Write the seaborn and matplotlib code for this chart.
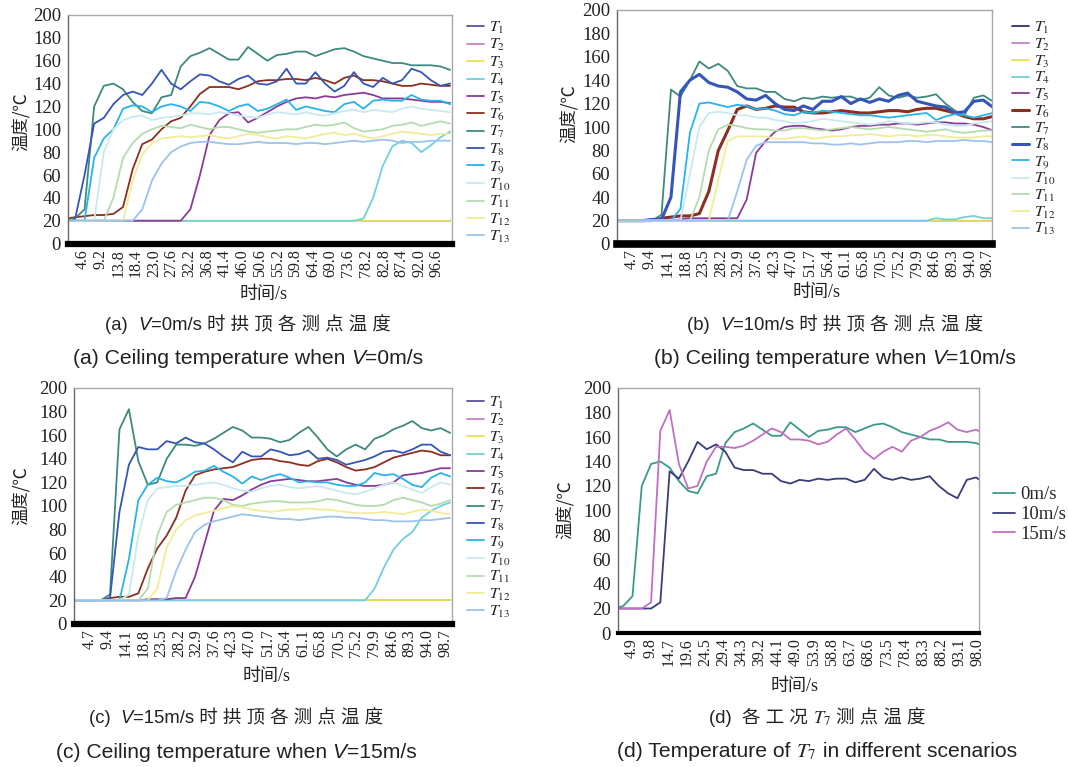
import matplotlib
matplotlib.use('Agg')
import matplotlib.pyplot as plt
from matplotlib.offsetbox import TextArea, HPacker, AnchoredOffsetbox
import seaborn as sns

# sampling times (s), shared by all panels
TIME = [0, 2.5, 5, 7.5, 10, 12.5, 15, 17.5, 20, 22.5,
        25, 27.5, 30, 32.5, 35, 37.5, 40, 42.5, 45, 47.5,
        50, 52.5, 55, 57.5, 60, 62.5, 65, 67.5, 70, 72.5,
        75, 77.5, 80, 82.5, 85, 87.5, 90, 92.5, 95, 97.5,
        100]

# probes that never heat up stay at ambient
AMBIENT = [20, 20, 20, 20, 20, 20, 20, 20, 20, 20,
           20, 20, 20, 20, 20, 20, 20, 20, 20, 20,
           20, 20, 20, 20, 20, 20, 20, 20, 20, 20,
           20, 20, 20, 20, 20, 20, 20, 20, 20, 20,
           20]

# ---- (a) V = 0 m/s ----
A_T4 = [20, 20, 20, 20, 20, 20, 20, 20, 20, 20, 20, 20, 20, 20, 20, 20, 20, 20, 20, 20,
        20, 20, 20, 20, 20, 20, 20, 20, 20, 20, 20, 22, 40, 68, 85, 90, 88, 80, 86, 93, 98]
A_T5 = [20, 20, 20, 20, 20, 20, 20, 20, 20, 20, 20, 20, 20, 30, 60, 95, 108, 114, 115, 106,
        110, 115, 120, 124, 127, 128, 127, 129, 128, 130, 131, 132, 130, 127, 127, 127, 126, 125, 124, 124, 123]
A_T6 = [22, 23, 24, 25, 25, 26, 32, 65, 87, 91, 100, 107, 110, 120, 131, 137, 137, 137, 135, 138,
        142, 143, 143, 144, 144, 143, 145, 143, 140, 145, 147, 143, 143, 142, 140, 138, 138, 140, 139, 138, 138]
A_T7 = [20, 22, 30, 120, 138, 140, 135, 124, 116, 114, 128, 130, 155, 164, 167, 171, 166, 161, 161, 172,
        166, 160, 165, 166, 168, 168, 164, 167, 170, 171, 168, 164, 162, 160, 158, 158, 156, 156, 156, 155, 152]
A_T8 = [20, 21, 60, 105, 110, 122, 130, 133, 130, 140, 152, 140, 135, 142, 148, 147, 142, 139, 144, 147,
        140, 139, 142, 153, 140, 140, 150, 140, 133, 138, 150, 140, 137, 145, 140, 143, 153, 150, 143, 138, 140]
A_T9 = [20, 20, 20, 75, 92, 100, 118, 121, 120, 115, 120, 122, 120, 116, 124, 123, 120, 116, 120, 122,
        116, 118, 122, 126, 117, 120, 118, 116, 115, 122, 124, 118, 125, 126, 125, 125, 130, 126, 125, 125, 122]
A_T10 = [20, 20, 20, 20, 80, 100, 108, 111, 112, 108, 110, 111, 112, 114, 114, 113, 115, 114, 112, 111,
         110, 113, 115, 114, 113, 115, 113, 112, 114, 116, 117, 115, 117, 116, 115, 118, 120, 118, 117, 116, 115]
A_T11 = [20, 20, 20, 20, 20, 40, 75, 88, 96, 100, 103, 102, 101, 104, 102, 100, 102, 102, 100, 98,
         97, 98, 99, 100, 100, 102, 104, 103, 104, 106, 101, 98, 99, 100, 103, 104, 106, 103, 105, 107, 105]
A_T12 = [20, 20, 20, 20, 20, 20, 20, 55, 78, 88, 92, 93, 94, 93, 94, 95, 93, 92, 94, 96,
         95, 93, 92, 94, 93, 92, 94, 96, 97, 95, 96, 94, 92, 94, 96, 98, 97, 96, 95, 96, 96]
A_T13 = [20, 20, 20, 20, 20, 20, 20, 20, 30, 55, 70, 80, 85, 88, 89, 89, 88, 87, 87, 88,
         89, 88, 88, 88, 87, 88, 88, 87, 88, 89, 90, 89, 90, 91, 90, 88, 89, 89, 90, 90, 90]

# ---- (b) V = 10 m/s ----
B_T4 = [20, 20, 20, 20, 20, 20, 20, 20, 20, 20, 20, 20, 20, 20, 20, 20, 20, 20, 20, 20,
        20, 20, 20, 20, 20, 20, 20, 20, 20, 20, 20, 20, 20, 20, 22, 21, 21, 23, 24, 22, 22]
B_T5 = [20, 20, 20, 20, 20, 20, 20, 21, 22, 22, 22, 22, 22, 22, 38, 78, 88, 96, 100, 101,
        101, 99, 98, 97, 98, 100, 101, 101, 102, 102, 103, 103, 102, 103, 104, 104, 103, 103, 102, 100, 97]
B_T6 = [20, 20, 20, 20, 20, 22, 23, 24, 24, 26, 45, 80, 97, 115, 118, 115, 116, 118, 117, 117,
        113, 112, 112, 113, 114, 113, 112, 112, 113, 114, 114, 113, 115, 116, 116, 114, 112, 109, 107, 107, 109]
B_T7 = [20, 20, 20, 20, 20, 25, 132, 126, 140, 156, 150, 154, 148, 135, 133, 133, 130, 130, 124, 122,
        125, 124, 126, 125, 126, 126, 123, 125, 134, 127, 125, 127, 125, 126, 128, 120, 114, 110, 125, 127, 122]
B_T8 = [20, 20, 20, 20, 21, 21, 40, 130, 140, 145, 138, 135, 134, 130, 124, 123, 127, 120, 115, 114,
        118, 115, 122, 122, 126, 120, 124, 121, 124, 122, 127, 129, 122, 120, 118, 117, 112, 113, 122, 123, 117]
B_T9 = [20, 20, 20, 20, 20, 20, 20, 30, 95, 120, 121, 119, 117, 119, 118, 115, 116, 114, 111, 110,
        113, 112, 114, 113, 112, 111, 110, 110, 109, 108, 109, 110, 111, 112, 106, 109, 111, 110, 108, 110, 112]
B_T10 = [20, 20, 20, 20, 20, 20, 20, 20, 60, 100, 112, 113, 112, 110, 110, 108, 108, 106, 105, 103,
         104, 105, 107, 106, 105, 104, 103, 102, 103, 105, 104, 103, 103, 104, 104, 102, 101, 101, 103, 104, 105]
B_T11 = [20, 20, 20, 20, 20, 20, 20, 20, 20, 40, 80, 98, 102, 101, 99, 98, 98, 97, 97, 99,
         99, 98, 97, 98, 99, 100, 99, 98, 99, 100, 99, 98, 97, 96, 97, 98, 96, 95, 96, 97, 97]
B_T12 = [20, 20, 20, 20, 20, 20, 20, 20, 20, 20, 20, 55, 88, 92, 92, 92, 92, 90, 90, 91,
         92, 90, 91, 92, 92, 93, 93, 94, 93, 92, 93, 93, 92, 93, 93, 92, 91, 91, 91, 92, 92]
B_T13 = [20, 20, 20, 20, 20, 20, 20, 20, 20, 20, 20, 20, 20, 45, 72, 84, 87, 87, 87, 87,
         87, 86, 86, 85, 85, 86, 85, 86, 87, 87, 87, 88, 88, 87, 88, 88, 88, 89, 88, 88, 87]

# ---- (c) V = 15 m/s ----
C_T4 = [20, 20, 20, 20, 20, 20, 20, 20, 20, 20, 20, 20, 20, 20, 20, 20, 20, 20, 20, 20,
        20, 20, 20, 20, 20, 20, 20, 20, 20, 20, 20, 20, 30, 48, 63, 72, 78, 90, 96, 100, 103]
C_T5 = [20, 20, 20, 20, 20, 20, 20, 20, 21, 21, 21, 22, 22, 40, 68, 96, 106, 105, 109, 114,
        118, 121, 122, 123, 122, 121, 121, 122, 123, 120, 118, 117, 117, 118, 120, 126, 127, 128, 130, 132, 132]
C_T6 = [20, 20, 20, 20, 22, 23, 23, 26, 47, 64, 75, 90, 113, 126, 129, 131, 132, 133, 136, 139,
        140, 140, 138, 137, 135, 134, 138, 140, 137, 133, 130, 131, 133, 137, 141, 143, 145, 147, 146, 143, 143]
C_T7 = [20, 20, 20, 20, 25, 165, 182, 138, 118, 120, 140, 152, 152, 151, 153, 157, 162, 167, 164, 158,
        158, 157, 154, 156, 162, 167, 158, 148, 142, 148, 152, 148, 157, 160, 165, 168, 172, 166, 164, 166, 162]
C_T8 = [20, 20, 20, 20, 22, 95, 135, 150, 148, 148, 155, 153, 158, 154, 153, 148, 142, 137, 146, 142,
        142, 148, 146, 143, 144, 147, 140, 141, 139, 135, 137, 139, 142, 146, 147, 145, 148, 152, 152, 146, 143]
C_T9 = [20, 20, 20, 20, 20, 20, 55, 105, 118, 124, 121, 120, 124, 129, 130, 134, 129, 125, 119, 125,
        122, 125, 127, 124, 120, 121, 120, 120, 118, 117, 117, 120, 128, 126, 127, 123, 118, 116, 124, 128, 125]
C_T10 = [20, 20, 20, 20, 20, 20, 25, 75, 105, 115, 116, 117, 117, 118, 119, 120, 118, 115, 113, 112,
         115, 117, 118, 116, 115, 116, 117, 115, 113, 111, 110, 112, 115, 118, 120, 117, 114, 111, 116, 120, 118]
C_T11 = [20, 20, 20, 20, 20, 20, 20, 20, 30, 75, 95, 101, 103, 105, 107, 107, 105, 101, 100, 102,
         103, 104, 104, 103, 103, 103, 104, 106, 105, 103, 101, 100, 100, 101, 105, 107, 105, 103, 100, 102, 105]
C_T12 = [20, 20, 20, 20, 20, 20, 20, 20, 20, 30, 65, 80, 88, 92, 94, 96, 98, 100, 99, 97,
         96, 95, 96, 97, 97, 98, 97, 97, 96, 95, 94, 94, 94, 95, 94, 93, 95, 97, 96, 94, 93]
C_T13 = [20, 20, 20, 20, 20, 20, 20, 20, 20, 20, 22, 45, 63, 78, 84, 87, 89, 91, 93, 92,
         91, 90, 89, 89, 88, 89, 90, 91, 91, 90, 90, 89, 88, 88, 87, 87, 87, 88, 88, 89, 90]

PROBES = ['$T_{%d}$' % i for i in range(1, 14)]
PROBE_COLORS = ['#5b4f98', '#c582cc', '#e9e34f', '#72d0de', '#8a3b98', '#8c2f1f', '#3e8a7c',
                '#3556b8', '#27b4ea', '#c8e9ef', '#b4dcb0', '#f2ec98', '#9cc3ec']

SPEEDS = ['0m/s', '10m/s', '15m/s']
SPEED_COLORS = ['#3a9a8a', '#3c3c78', '#c070c0']

TICKS_A = [4.6, 9.2, 13.8, 18.4, 23.0, 27.6, 32.2, 36.8, 41.4, 46.0, 50.6,
           55.2, 59.8, 64.4, 69.0, 73.6, 78.2, 82.8, 87.4, 92.0, 96.6]
TICKS_BC = [4.7, 9.4, 14.1, 18.8, 23.5, 28.2, 32.9, 37.6, 42.3, 47.0, 51.7,
            56.4, 61.1, 65.8, 70.5, 75.2, 79.9, 84.6, 89.3, 94.0, 98.7]
TICKS_D = [4.9, 9.8, 14.7, 19.6, 24.5, 29.4, 34.3, 39.2, 44.1, 49.0,
           53.9, 58.8, 63.7, 68.6, 73.5, 78.4, 83.3, 88.2, 93.1, 98.0]

sns.set_style('white')
plt.rcParams['font.family'] = ['Liberation Serif', 'Noto Sans CJK SC', 'DejaVu Sans']
plt.rcParams['mathtext.fontset'] = 'stix'

W, H = 1068, 767
fig = plt.figure(figsize=(W / 100, H / 100), dpi=100)
CN = ['Noto Sans CJK SC', 'DejaVu Sans']
CAP = ['Liberation Sans', 'Noto Sans CJK SC', 'DejaVu Sans']
INK = '#222222'


def px(x0, y_top, x1, y_bot):
    return [x0 / W, 1 - y_bot / H, (x1 - x0) / W, (y_bot - y_top) / H]


def panel(rect, series, labels, colors, ticks, xlim, bar_lw, leg_xy, ylab_xy, xlab_xy,
          widths=None, leg_size=11.5, hlen=1.05, lspace=0.08):
    ax = fig.add_axes(rect)
    widths = widths or [1.3] * len(series)
    for vals, lab, col, lw in zip(series, labels, colors, widths):
        sns.lineplot(x=TIME, y=vals, ax=ax, color=col, lw=lw, label=lab)
    ax.set_xlim(*xlim)
    ax.set_ylim(0, 200)
    ax.set_yticks(range(0, 201, 20))
    ax.set_xticks(ticks)
    ax.set_xticklabels(['%.1f' % v for v in ticks], rotation=90, va='top')
    ax.tick_params(axis='y', length=0, pad=5, labelsize=13.5, labelcolor=INK)
    ax.tick_params(axis='x', length=0, pad=4, labelsize=11.5, labelcolor=INK)
    ax.set_xlabel('')
    ax.set_ylabel('')
    for s in ('top', 'right'):
        ax.spines[s].set_color('#a8a8a8')
        ax.spines[s].set_linewidth(1.0)
    ax.spines['left'].set_color('#666666')
    ax.spines['left'].set_linewidth(1.0)
    ax.spines['bottom'].set_color('black')
    ax.spines['bottom'].set_linewidth(bar_lw)
    ax.legend(loc='upper left', bbox_to_anchor=(leg_xy[0] / W, 1 - leg_xy[1] / H),
              bbox_transform=fig.transFigure, frameon=False, fontsize=leg_size,
              handlelength=hlen, handletextpad=0.3, labelspacing=lspace,
              borderpad=0, borderaxespad=0)
    fig.text(ylab_xy[0] / W, 1 - ylab_xy[1] / H, '温度/℃', rotation=90, ha='center',
             va='center', fontsize=12.5, family=CN, color=INK)
    fig.text(xlab_xy[0] / W, 1 - xlab_xy[1] / H, '时间/s', ha='center', va='center',
             fontsize=13, color=INK)
    return ax


def caption(x, y, parts, size):
    areas = []
    for text, style in parts:
        if style == 'math':
            props = dict(fontsize=size, color=INK)
        else:
            props = dict(fontsize=size, family=CAP, style=style, color=INK)
        areas.append(TextArea(text, textprops=props))
    row = HPacker(children=areas, align='baseline', pad=0, sep=0)
    box = AnchoredOffsetbox(loc='center', child=row, pad=0, borderpad=0, frameon=False,
                            bbox_to_anchor=(x / W, 1 - y / H), bbox_transform=fig.transFigure)
    fig.add_artist(box)


wide_b = [1.3, 1.3, 1.3, 1.3, 1.3, 2.2, 1.3, 2.2, 1.3, 1.3, 1.3, 1.3, 1.3]

panel(px(68, 15, 452, 243.6),
      [AMBIENT, AMBIENT, AMBIENT, A_T4, A_T5, A_T6, A_T7, A_T8, A_T9, A_T10, A_T11, A_T12, A_T13],
      PROBES, PROBE_COLORS, TICKS_A, (0.7, 100.5), 4.5, (467, 20), (22, 122), (264, 295))
panel(px(617, 10, 992, 244),
      [AMBIENT, AMBIENT, AMBIENT, B_T4, B_T5, B_T6, B_T7, B_T8, B_T9, B_T10, B_T11, B_T12, B_T13],
      PROBES, ['#2f2f6e'] + PROBE_COLORS[1:], TICKS_BC, (0.74, 99.8), 5.5, (1012, 20),
      (570, 114), (817, 293), widths=wide_b, lspace=0.04)
panel(px(74, 388, 452, 624),
      [AMBIENT, AMBIENT, AMBIENT, C_T4, C_T5, C_T6, C_T7, C_T8, C_T9, C_T10, C_T11, C_T12, C_T13],
      PROBES, PROBE_COLORS, TICKS_BC, (0.47, 100.5), 4.5, (467, 395), (22, 496), (267, 676))
panel(px(618, 388, 979, 633),
      [A_T7, B_T7, C_T7], SPEEDS, SPEED_COLORS, TICKS_D, (1.1, 98.3), 3.0, (993, 486),
      (566, 510), (795, 687), leg_size=13.5, hlen=1.15, lspace=0.15)

CN_SIZE, EN_SIZE = 13.3, 15.2
caption(248, 325, [('(a)  ', 'normal'), ('V', 'italic'), ('=0m/s 时 拱 顶 各 测 点 温 度', 'normal')], CN_SIZE)
caption(248, 358, [('(a) Ceiling temperature when ', 'normal'), ('V', 'italic'), ('=0m/s', 'normal')], EN_SIZE)
caption(835, 325, [('(b)  ', 'normal'), ('V', 'italic'), ('=10m/s 时 拱 顶 各 测 点 温 度', 'normal')], CN_SIZE)
caption(835, 358, [('(b) Ceiling temperature when ', 'normal'), ('V', 'italic'), ('=10m/s', 'normal')], EN_SIZE)
caption(236, 718, [('(c)  ', 'normal'), ('V', 'italic'), ('=15m/s 时 拱 顶 各 测 点 温 度', 'normal')], CN_SIZE)
caption(236, 752, [('(c) Ceiling temperature when ', 'normal'), ('V', 'italic'), ('=15m/s', 'normal')], EN_SIZE)
caption(817, 718, [('(d)  各 工 况 ', 'normal'), ('$T_7$', 'math'), (' 测 点 温 度', 'normal')], CN_SIZE)
caption(817, 752, [('(d) Temperature of ', 'normal'), ('$T_7$', 'math'),
                   (' in different scenarios', 'normal')], EN_SIZE)

fig.savefig('out.png', dpi=100, facecolor='white')
